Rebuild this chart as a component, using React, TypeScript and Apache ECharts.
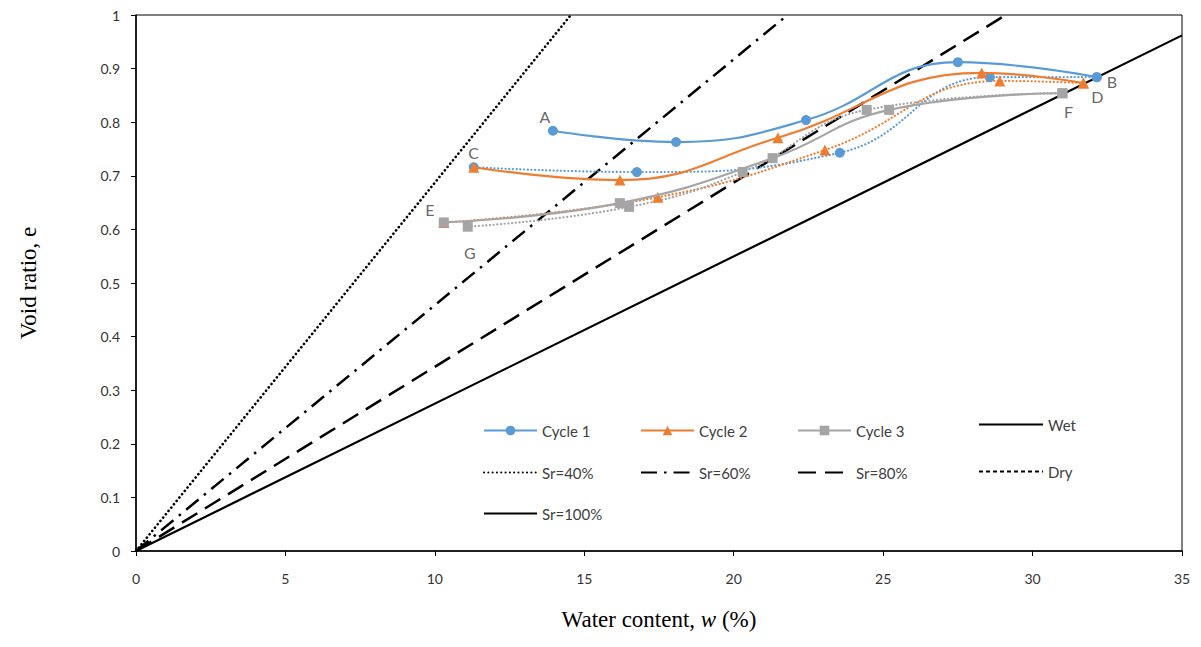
import React, { useEffect, useRef } from "react";
import * as echarts from "echarts";

// Water content w (%), void ratio e
const cycle1Wet = [[13.95, 0.784], [18.07, 0.763], [22.42, 0.804], [27.5, 0.912], [32.15, 0.884]];
const cycle1Dry = [[32.15, 0.884], [28.57, 0.884], [23.55, 0.743], [16.76, 0.707], [11.3, 0.716]];
const cycle2Wet = [[11.3, 0.716], [16.19, 0.692], [21.48, 0.771], [28.3, 0.892], [31.7, 0.873]];
const cycle2Dry = [[31.7, 0.873], [28.9, 0.877], [23.05, 0.748], [17.46, 0.66], [10.3, 0.613]];
const cycle3Wet = [[10.3, 0.613], [16.19, 0.649], [21.3, 0.733], [25.2, 0.823], [31.0, 0.854]];
const cycle3Dry = [[31.0, 0.854], [24.45, 0.823], [20.3, 0.707], [16.5, 0.642], [11.1, 0.605]];

const sr40 = [[0, 0], [14.55, 1]];
const sr60 = [[0, 0], [21.8, 1]];
const sr80 = [[0, 0], [29.1, 1]];
const sr100 = [[0, 0], [35, 0.962]];

const pointLabels = [
  { name: "A", value: [13.95, 0.784], offset: [-8, -14] },
  { name: "B", value: [32.15, 0.884], offset: [15, 4] },
  { name: "C", value: [11.3, 0.716], offset: [0, -15] },
  { name: "D", value: [31.7, 0.873], offset: [14, 13] },
  { name: "E", value: [10.3, 0.613], offset: [-14, -13] },
  { name: "F", value: [31.0, 0.854], offset: [6, 18] },
  { name: "G", value: [11.1, 0.605], offset: [2, 26] },
];

const xTicks = { min: 0, max: 35, interval: 5 };
const yTicks = { min: 0, max: 1, interval: 0.1 };

const BLUE = "#5B9BD5";
const ORANGE = "#ED7D31";
const GREY = "#A5A5A5";
const SANS = "Lato, 'Open Sans', sans-serif";
const SERIF = "'Liberation Serif', 'DejaVu Serif', serif";

export default function App() {
  const ref = useRef<HTMLDivElement>(null);
  useEffect(() => {
    if (!ref.current) return;
    const chart = echarts.init(ref.current, null, { renderer: "svg" });

    const legendItem = (name: string, left: number, top: number, width = 53, hideSymbol = false) => {
      const l: any = {
        data: [name],
        left,
        top,
        padding: 0,
        itemWidth: width,
        itemHeight: 12,
        itemGap: 0,
        selectedMode: false,
        textStyle: { fontFamily: SANS, fontSize: 15, color: "#404040" },
      };
      if (hideSymbol) l.itemStyle = { opacity: 0 };
      return l;
    };

    const cycleWet = (name: string, data: number[][], color: string, symbol: string, size: number) => ({
      name,
      type: "line",
      data,
      smooth: 0.45,
      symbol,
      symbolSize: size,
      itemStyle: { color },
      lineStyle: { color, width: 2.2 },
      z: 5,
    });
    const cycleDry = (name: string, data: number[][], color: string, symbol: string, size: number) => ({
      name,
      type: "line",
      data,
      smooth: 0.45,
      symbol,
      symbolSize: size,
      itemStyle: { color },
      lineStyle: { color, width: 2.2, type: [0.1, 3.6], cap: "round" },
      z: 4,
    });
    const refLine = (name: string, data: number[][], width: number, type: any, cap = "butt") => ({
      name,
      type: "line",
      data,
      symbol: "none",
      itemStyle: { color: "#000" },
      lineStyle: { color: "#000", width, type, cap },
      z: 3,
    });

    chart.setOption({
      animation: false,
      grid: { left: 136, right: 19, top: 15, bottom: 96, show: true, borderColor: "#000", borderWidth: 1 },
      xAxis: {
        type: "value",
        ...xTicks,
        name: "Water content, {i|w} (%)",
        nameLocation: "middle",
        nameGap: 57,
        nameTextStyle: {
          fontFamily: SERIF,
          fontSize: 23,
          color: "#000",
          rich: { i: { fontFamily: SERIF, fontSize: 23, fontStyle: "italic", color: "#000" } },
        },
        axisLine: { show: true, lineStyle: { color: "#000", width: 1.5 } },
        axisTick: { show: true, length: 5, lineStyle: { color: "#000" } },
        axisLabel: { fontFamily: SANS, fontSize: 14, color: "#333", margin: 20 },
        splitLine: { show: false },
      },
      yAxis: {
        type: "value",
        ...yTicks,
        name: "Void ratio, e",
        nameLocation: "middle",
        nameGap: 96,
        nameTextStyle: { fontFamily: SERIF, fontSize: 23, color: "#000" },
        axisLine: { show: true, lineStyle: { color: "#000", width: 1.5 } },
        axisTick: { show: true, length: 5, lineStyle: { color: "#000" } },
        axisLabel: { fontFamily: SANS, fontSize: 14, color: "#333", margin: 16 },
        splitLine: { show: false },
      },
      legend: [
        legendItem("Cycle 1", 483, 423),
        legendItem("Cycle 2", 640, 423),
        legendItem("Cycle 3", 797, 423),
        legendItem("Wet", 978, 417, 64, true),
        legendItem("Sr=40%", 483, 465, 53, true),
        legendItem("Sr=60%", 640, 465, 53, true),
        legendItem("Sr=80%", 797, 465, 53, true),
        legendItem("Dry", 978, 464, 64, true),
        legendItem("Sr=100%", 483, 506, 53, true),
      ],
      series: [
        refLine("Sr=40%", sr40, 2.6, [0.1, 4.2], "round"),
        refLine("Sr=60%", sr60, 2.5, [16, 7, 2.5, 7]),
        refLine("Sr=80%", sr80, 2.5, [18, 9]),
        refLine("Sr=100%", sr100, 2.2, "solid"),
        { name: "Wet", type: "line", data: [], symbol: "none", itemStyle: { color: "#000" }, lineStyle: { color: "#000", width: 1 } },
        { name: "Dry", type: "line", data: [], symbol: "none", itemStyle: { color: "#000" }, lineStyle: { color: "#000", width: 1, type: [4, 3] } },
        cycleWet("Cycle 1", cycle1Wet, BLUE, "circle", 10),
        cycleDry("Cycle 1 dry", cycle1Dry, BLUE, "circle", 10),
        cycleWet("Cycle 2", cycle2Wet, ORANGE, "triangle", 11),
        cycleDry("Cycle 2 dry", cycle2Dry, ORANGE, "triangle", 11),
        cycleWet("Cycle 3", cycle3Wet, GREY, "rect", 10),
        cycleDry("Cycle 3 dry", cycle3Dry, GREY, "rect", 10),
        {
          name: "labels",
          type: "scatter",
          symbolSize: 0,
          silent: true,
          z: 10,
          data: pointLabels.map((p) => ({
            name: p.name,
            value: p.value,
            label: { offset: p.offset },
          })),
          label: {
            show: true,
            position: "inside",
            formatter: "{b}",
            fontFamily: SANS,
            fontSize: 16,
            color: "#404040",
          },
        },
      ],
    });
    return () => chart.dispose();
  }, []);
  return <div ref={ref} style={{ position: "absolute", left: 0, top: 0, width: 1201, height: 647 }} />;
}
